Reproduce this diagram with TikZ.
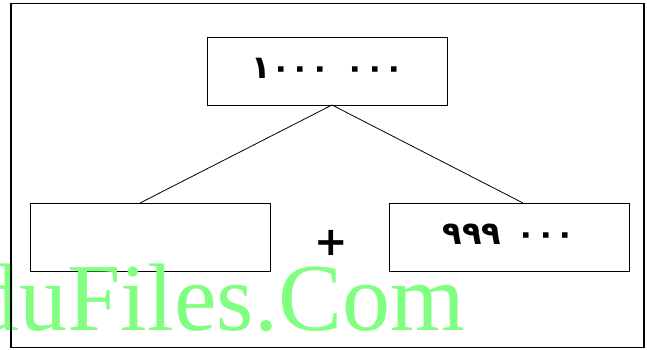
\documentclass[tikz,border=0pt]{standalone}
\usepackage{fontspec}
\setmainfont{Liberation Serif}
\TeXXeTstate=1
\newfontfamily\digitfont{DejaVu Sans}
\newfontfamily\wmfont{Liberation Serif}
\definecolor{wmgreen}{HTML}{80FF80}
\begin{document}
\begin{tikzpicture}[x=1pt,y=-1pt,
  box/.style={draw=black,line width=0.9pt,minimum width=240pt,minimum height=68pt,inner sep=0pt},
  num/.style={font=\digitfont\bfseries\fontsize{32}{36}\selectfont,anchor=base,inner sep=0pt},
  link/.style={draw=black,line width=0.8pt}]
\useasboundingbox (0,0) rectangle (647,349);
\clip (0,0) rectangle (647,349);
\node[box] (top) at (327,71) {};
\node[num] (topa) at (291,78) {١٠٠٠};
\node[num] (topb) at (375,78) {٠٠٠};
\node[box] (left) at (150.5,237.5) {};
\node[box] (right) at (509.5,237.5) {};
\node[num] (righta) at (472,244) {٩٩٩};
\node[num] (rightb) at (546,244) {٠٠٠};
\node[font=\digitfont\bfseries\fontsize{40}{44}\selectfont,inner sep=0pt] (plus) at (331,243) {+};
\coordinate (apex) at (332,105);
\coordinate (lfoot) at (140,203);
\coordinate (rfoot) at (523,203);
\draw[link] (lfoot) -- (apex) -- (rfoot);
\node[font=\wmfont\fontsize{96}{100}\selectfont,text=wmgreen,anchor=base east,inner sep=0pt] (wm) at (465,330) {EduFiles.Com};
\node[draw=black,line width=1.2pt,minimum width=633pt,minimum height=344pt,inner sep=0pt] (frame) at (327.5,175.5) {};
\end{tikzpicture}
\end{document}
